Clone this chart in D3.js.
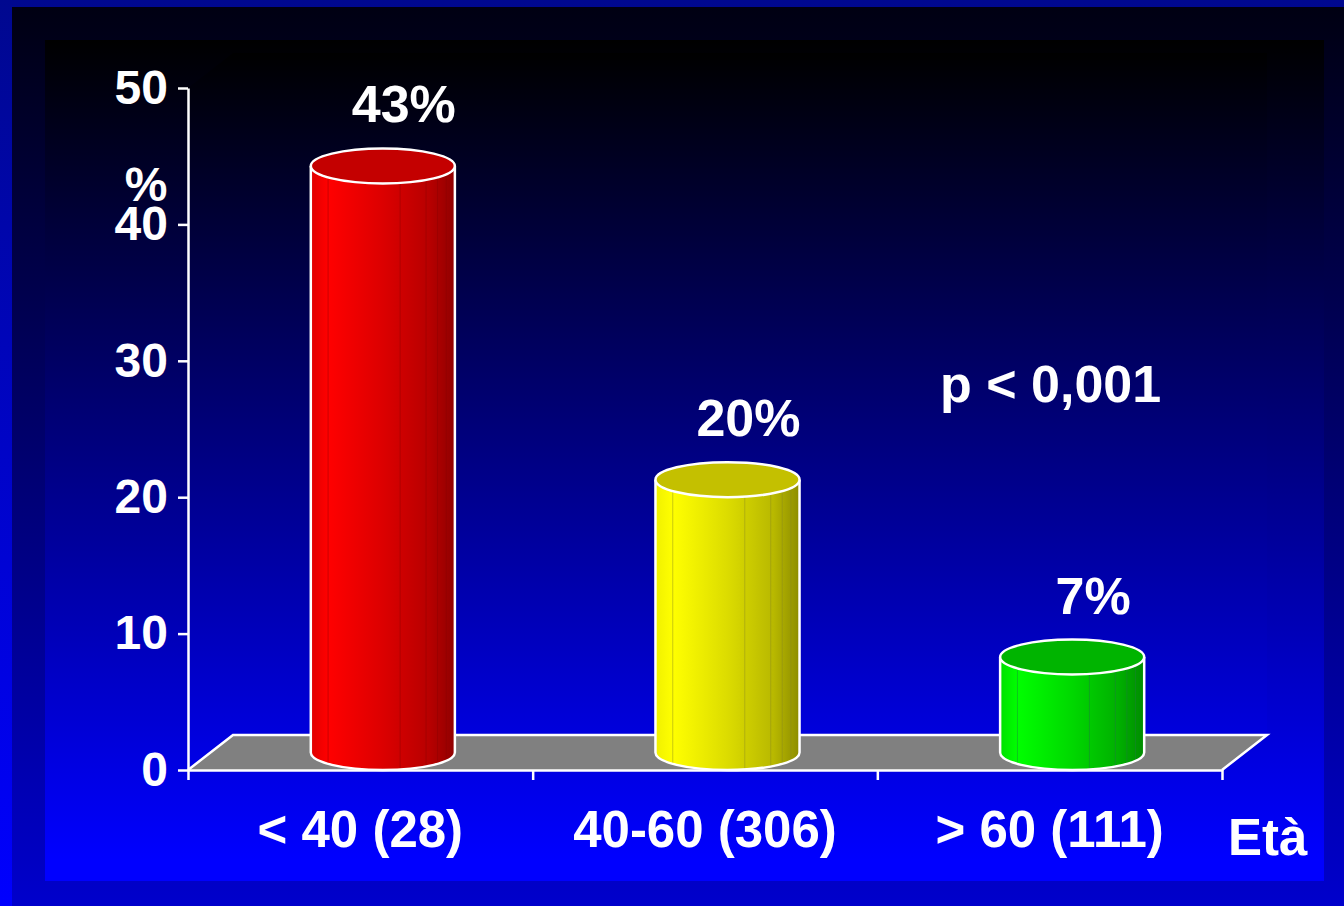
<!DOCTYPE html>
<html>
<head>
<meta charset="utf-8">
<script src="https://cdn.jsdelivr.net/npm/d3@7"></script>
<style>
  html, body { margin: 0; padding: 0; background: #0000cc; }
  svg { display: block; }
  text { font-family: "Liberation Sans", Arial, sans-serif; font-weight: bold; fill: #ffffff; }
</style>
</head>
<body>
<svg id="chart" width="1344" height="906"></svg>
<script>
// ---- data ----
const categories = ["< 40 (28)", "40-60 (306)", "> 60 (111)"];
const values = [43, 20, 7];
const valueLabels = ["43%", "20%", "7%"];
const yTicks = [0, 10, 20, 30, 40, 50];
const barColors = ["red", "yellow", "green"];
const yTitle = "%";
const xTitle = "Età";
const pText = "p < 0,001";

// ---- styles ----
const palettes = {
  red:    { stops: ["#e00000", "#ff0000", "#dc0000", "#b80000", "#900000"], top: "#c40000", line: "#8a0000" },
  yellow: { stops: ["#f0f000", "#ffff00", "#dcdc00", "#b8b800", "#8c8c00"], top: "#c4c000", line: "#8a8a20" },
  green:  { stops: ["#00e000", "#00ff00", "#00d800", "#00b000", "#008c00"], top: "#00b400", line: "#207a40" }
};

const svg = d3.select("#chart");
const W = 1344, H = 906;
const defs = svg.append("defs");

function vGrad(id, c0, c1, y0, y1) {
  const g = defs.append("linearGradient").attr("id", id)
    .attr("gradientUnits", "userSpaceOnUse")
    .attr("x1", 0).attr("x2", 0).attr("y1", y0).attr("y2", y1);
  g.append("stop").attr("offset", 0).attr("stop-color", c0);
  g.append("stop").attr("offset", 1).attr("stop-color", c1);
}
vGrad("bgOuter", "#00088f", "#0000ff", 0, H);
vGrad("bgA", "#000012", "#0000cc", 7, 906);
vGrad("bgB", "#000000", "#0000ff", 40, 860);
vGrad("bgC", "#000000", "#0000ff", 53, 840);

svg.append("rect").attr("x", 0).attr("y", 0).attr("width", W).attr("height", H).attr("fill", "url(#bgOuter)");
svg.append("rect").attr("x", 12).attr("y", 7).attr("width", W - 12).attr("height", H - 7).attr("fill", "url(#bgA)");
svg.append("rect").attr("x", 45).attr("y", 40).attr("width", 1279).attr("height", 841).attr("fill", "url(#bgB)");

// ---- scales ----
const y = d3.scaleLinear().domain([0, 50]).range([770, 88]);
const x = d3.scaleBand().domain(categories).range([188, 1222]).padding(0);
const xEdge = d3.scaleLinear().domain([0, categories.length]).range([188, 1222]);
const depthX = 45, depthY = -35;

// back wall (3D)
svg.append("path")
  .attr("d", `M${xEdge(0)},${y(50)} L${xEdge(0) + depthX},${y(50) + depthY} L${xEdge(3) + depthX},${y(50) + depthY} L${xEdge(3) + depthX},${y(0) + depthY} L${xEdge(0)},${y(0)} Z`)
  .attr("fill", "url(#bgC)");

// floor
svg.append("path")
  .attr("d", `M${xEdge(0)},${y(0)} L${xEdge(0) + depthX},${y(0) + depthY} L${xEdge(3) + depthX},${y(0) + depthY} L${xEdge(3)},${y(0)} Z`)
  .attr("fill", "#808080");
svg.append("path")
  .attr("d", `M${xEdge(0)},${y(0)} L${xEdge(0) + depthX},${y(0) + depthY} L${xEdge(3) + depthX},${y(0) + depthY} L${xEdge(3)},${y(0)}`)
  .attr("fill", "none").attr("stroke", "#ffffff").attr("stroke-width", 2.5);

// ---- bars (cylinders) ----
const rx = x.bandwidth() * 0.209;
const ry = -depthY / 2;
const facetFracs = [0.12, 0.62, 0.8, 0.88, 0.94];

categories.forEach((cat, i) => {
  const pal = palettes[barColors[i]];
  const gid = "barGrad" + i;
  const g = defs.append("linearGradient").attr("id", gid).attr("x1", 0).attr("x2", 1).attr("y1", 0).attr("y2", 0);
  [0, 0.12, 0.5, 0.82, 1].forEach((o, k) => g.append("stop").attr("offset", o).attr("stop-color", pal.stops[k]));

  const cx = x(cat) + x.bandwidth() / 2 + depthX / 2;
  const topCy = y(values[i]) + depthY / 2;
  const botCy = y(0) + depthY / 2;
  const grp = svg.append("g");

  grp.append("path")
    .attr("d", `M${cx - rx},${topCy} L${cx - rx},${botCy} A${rx},${ry} 0 0 0 ${cx + rx},${botCy} L${cx + rx},${topCy} Z`)
    .attr("fill", `url(#${gid})`);

  facetFracs.forEach(f => {
    const fx = cx - rx + f * 2 * rx;
    const t = (fx - cx) / rx;
    const yb = botCy + ry * Math.sqrt(Math.max(0, 1 - t * t));
    grp.append("line").attr("x1", fx).attr("x2", fx).attr("y1", topCy).attr("y2", yb)
      .attr("stroke", pal.line).attr("stroke-width", 1).attr("stroke-opacity", 0.45);
  });

  grp.append("path")
    .attr("d", `M${cx - rx},${topCy} L${cx - rx},${botCy} A${rx},${ry} 0 0 0 ${cx + rx},${botCy} L${cx + rx},${topCy}`)
    .attr("fill", "none").attr("stroke", "#ffffff").attr("stroke-width", 2.5);

  grp.append("ellipse")
    .attr("cx", cx).attr("cy", topCy).attr("rx", rx).attr("ry", ry)
    .attr("fill", pal.top).attr("stroke", "#ffffff").attr("stroke-width", 2.5);

  svg.append("text")
    .attr("x", cx + 21).attr("y", y(values[i]) - 61)
    .attr("text-anchor", "middle").attr("font-size", 52)
    .text(valueLabels[i]);
});

// ---- axes ----
const yAxis = svg.append("g").attr("transform", `translate(${xEdge(0)},0)`)
  .call(d3.axisLeft(y).tickValues(yTicks).tickFormat(d3.format("d")).tickSize(10).tickSizeOuter(0).tickPadding(10));
yAxis.selectAll("path, line").attr("stroke", "#ffffff").attr("stroke-width", 2.5);
yAxis.selectAll("text").attr("font-size", 48).attr("fill", "#ffffff")
  .attr("font-family", "'Liberation Sans', Arial, sans-serif").attr("font-weight", "bold");

const xAxis = svg.append("g").attr("transform", `translate(0,${y(0)})`)
  .call(d3.axisBottom(xEdge).tickValues(d3.range(categories.length + 1)).tickFormat("").tickSize(10).tickSizeOuter(0));
xAxis.selectAll("path, line").attr("stroke", "#ffffff").attr("stroke-width", 2.5);

svg.append("g").selectAll("text").data(categories).join("text")
  .attr("x", d => x(d) + x.bandwidth() / 2)
  .attr("y", 847)
  .attr("text-anchor", "middle").attr("font-size", 51)
  .text(d => d);

// titles
svg.append("text").attr("x", 146).attr("y", 201).attr("text-anchor", "middle").attr("font-size", 48).text(yTitle);
svg.append("text").attr("x", 1228).attr("y", 855).attr("font-size", 51).text(xTitle);
svg.append("text").attr("x", 940).attr("y", 402).attr("font-size", 52).text(pText);
</script>
</body>
</html>
